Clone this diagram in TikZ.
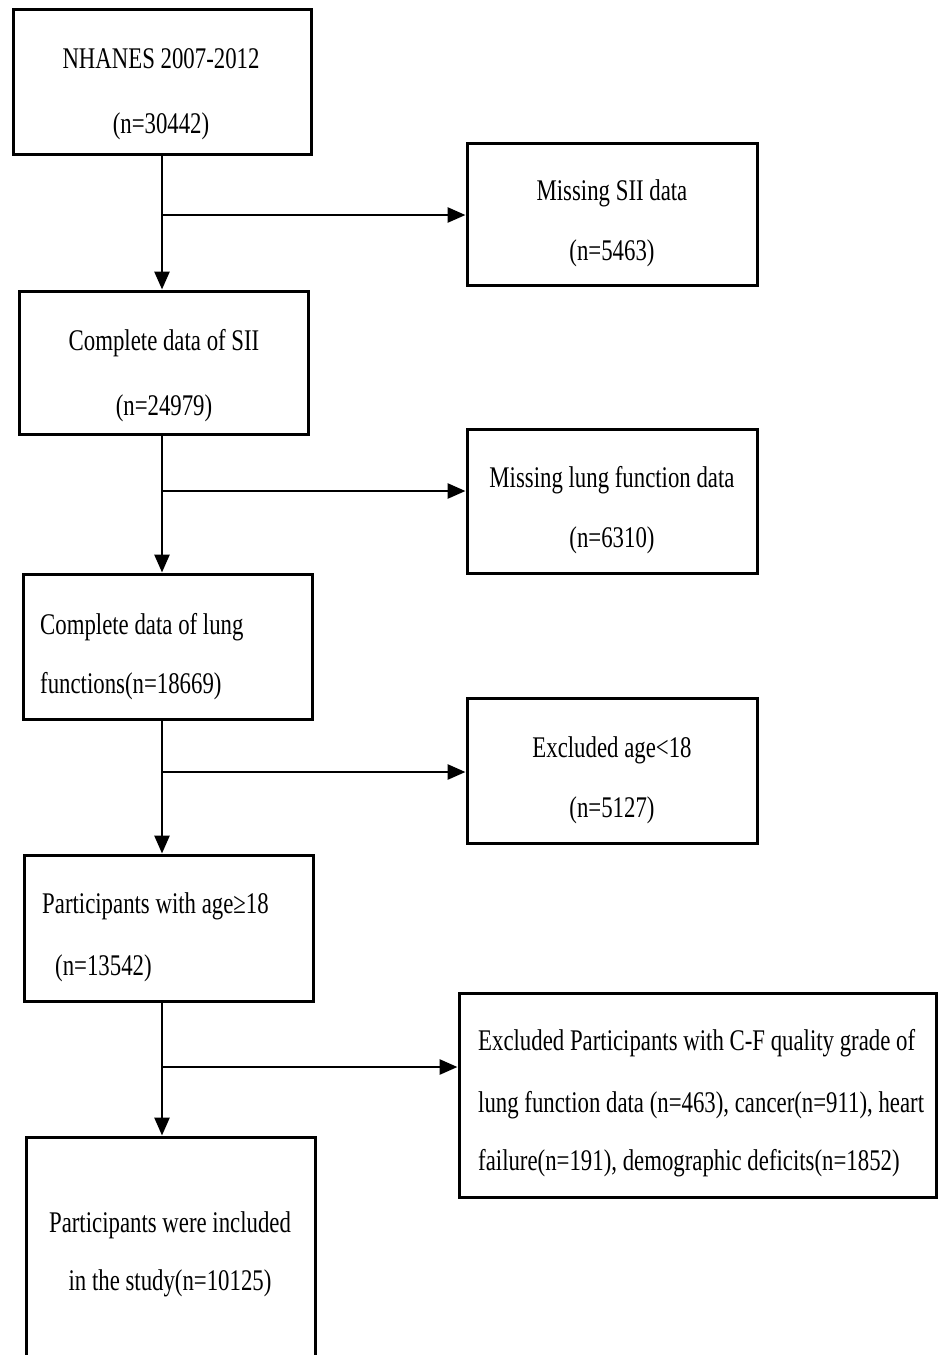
\documentclass[tikz,border=0pt]{standalone}
\usepackage{fontspec}
\setmainfont{Liberation Serif}[FakeStretch=0.76]
\usetikzlibrary{arrows.meta}
\begin{document}
\begin{tikzpicture}[x=1pt,y=-1pt,
  box/.style={draw=black, line width=3pt, inner sep=0pt, fill=none},
  txt/.style={inner sep=0pt, anchor=base, font=\fontsize{30pt}{34pt}\selectfont},
  txtl/.style={txt, anchor=base west},
  arr/.style={line width=2.8pt, -{Triangle[length=18pt,width=15pt]}}]
\clip (0,0) rectangle (938,1355);
\fill[white] (0,0) rectangle (938,1355);
% left column boxes
\node[box, minimum width=298pt, minimum height=145pt] (b1) at (162,81.5) {};
\node[box, minimum width=289pt, minimum height=143pt] (b2) at (163.5,362.5) {};
\node[box, minimum width=289pt, minimum height=145pt] (b3) at (167.5,646.5) {};
\node[box, minimum width=289pt, minimum height=146pt] (b4) at (168.5,928) {};
\node[box, minimum width=289pt, minimum height=263pt] (b5) at (170.5,1268.5) {};
% right column boxes
\node[box, minimum width=290pt, minimum height=142pt] (r1) at (612,214) {};
\node[box, minimum width=290pt, minimum height=144pt] (r2) at (612,501) {};
\node[box, minimum width=290pt, minimum height=145pt] (r3) at (612,770.5) {};
\node[box, minimum width=477pt, minimum height=204pt] (r4) at (697.5,1095) {};
% texts
\node[txt] (t1a) at (161,68) {NHANES 2007-2012};
\node[txt] (t1b) at (161,133) {(n=30442)};
\node[txt] (t2a) at (164,350) {Complete data of SII};
\node[txt] (t2b) at (164,415) {(n=24979)};
\node[txtl] (t3a) at (40,634) {Complete data of lung};
\node[txtl] (t3b) at (40,693) {functions(n=18669)};
\node[txtl] (t4a) at (42,913) {Participants with age≥18};
\node[txtl] (t4b) at (55,975) {(n=13542)};
\node[txt] (t5a) at (170,1232) {Participants were included};
\node[txt] (t5b) at (170,1290) {in the study(n=10125)};
\node[txt] (s1a) at (612,200) {Missing SII data};
\node[txt] (s1b) at (612,260) {(n=5463)};
\node[txt] (s2a) at (612,487) {Missing lung function data};
\node[txt] (s2b) at (612,547) {(n=6310)};
\node[txt] (s3a) at (612,757) {Excluded age<18};
\node[txt] (s3b) at (612,817) {(n=5127)};
\node[txtl] (s4a) at (478,1050) {Excluded Participants with C-F quality grade of};
\node[txtl] (s4b) at (478,1112) {lung function data (n=463), cancer(n=911), heart};
\node[txtl] (s4c) at (478,1170) {failure(n=191), demographic deficits(n=1852)};
% trunk and branches
\coordinate (trunk) at (162,0);
\coordinate (j1) at (162,215);
\coordinate (j2) at (162,491);
\coordinate (j3) at (162,772);
\coordinate (j4) at (162,1067);
\draw[arr] (trunk |- b1.south) -- (trunk |- b2.north);
\draw[arr] (trunk |- b2.south) -- (trunk |- b3.north);
\draw[arr] (trunk |- b3.south) -- (trunk |- b4.north);
\draw[arr] (trunk |- b4.south) -- (trunk |- b5.north);
\draw[arr] (j1) -- (j1 -| r1.west);
\draw[arr] (j2) -- (j2 -| r2.west);
\draw[arr] (j3) -- (j3 -| r3.west);
\draw[arr] (j4) -- (j4 -| r4.west);
\end{tikzpicture}
\end{document}
